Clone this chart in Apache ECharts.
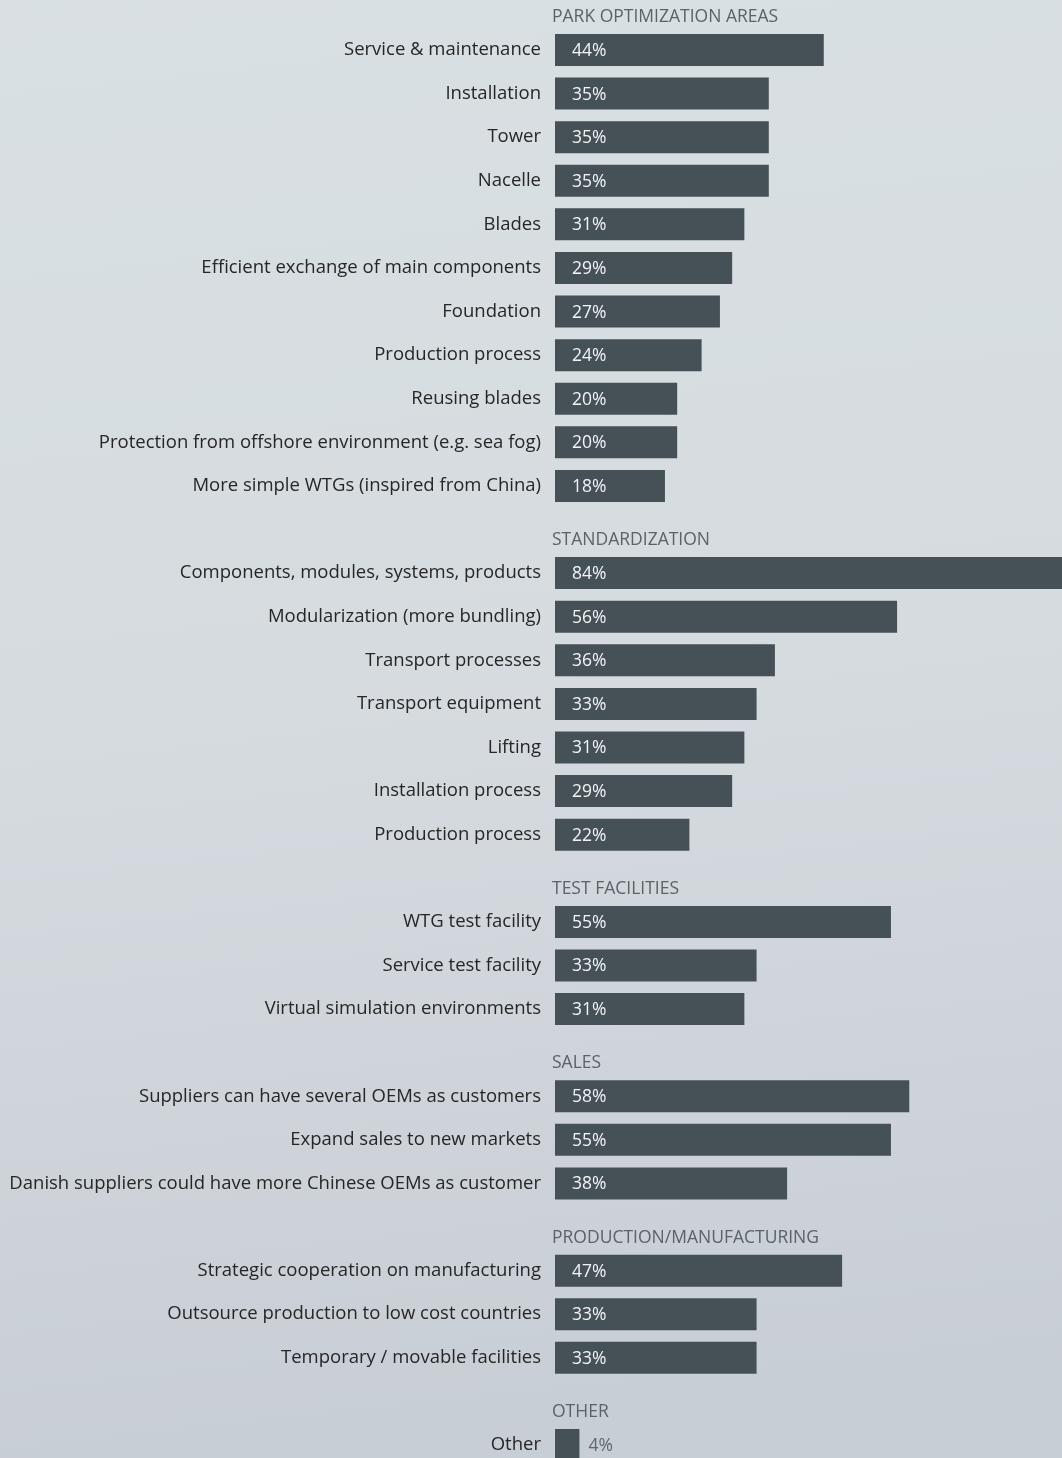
<!DOCTYPE html>
<html>
<head>
<meta charset="utf-8">
<script src="https://cdn.jsdelivr.net/npm/echarts@6/dist/echarts.min.js"></script>
<style>
html,body{margin:0;padding:0;}
#chart{width:1062px;height:1458px;}
</style>
</head>
<body>
<div id="chart"></div>
<script>
// ---- data ----
const sectionTitles = ['PARK OPTIMIZATION AREAS', 'STANDARDIZATION', 'TEST FACILITIES', 'SALES', 'PRODUCTION/MANUFACTURING', 'OTHER'];
const parkLabels = ['Service & maintenance', 'Installation', 'Tower', 'Nacelle', 'Blades', 'Efficient exchange of main components', 'Foundation', 'Production process', 'Reusing blades', 'Protection from offshore environment (e.g. sea fog)', 'More simple WTGs (inspired from China)'];
const parkValues = [44, 35, 35, 35, 31, 29, 27, 24, 20, 20, 18];
const stdLabels = ['Components, modules, systems, products', 'Modularization (more bundling)', 'Transport processes', 'Transport equipment', 'Lifting', 'Installation process', 'Production process'];
const stdValues = [84, 56, 36, 33, 31, 29, 22];
const testLabels = ['WTG test facility', 'Service test facility', 'Virtual simulation environments'];
const testValues = [55, 33, 31];
const salesLabels = ['Suppliers can have several OEMs as customers', 'Expand sales to new markets', 'Danish suppliers could have more Chinese OEMs as customer'];
const salesValues = [58, 55, 38];
const prodLabels = ['Strategic cooperation on manufacturing', 'Outsource production to low cost countries', 'Temporary / movable facilities'];
const prodValues = [47, 33, 33];
const otherLabels = ['Other'];
const otherValues = [4];

const sectionLabels = [parkLabels, stdLabels, testLabels, salesLabels, prodLabels, otherLabels];
const sectionValues = [parkValues, stdValues, testValues, salesValues, prodValues, otherValues];

// ---- build axis/series data ----
const categories = [];
const barData = [];
const headerData = [];
sectionLabels.forEach(function (labels, s) {
  if (s > 0) {
    categories.push('__gap' + s);
    barData.push('-');
    headerData.push('-');
  }
  labels.forEach(function (lab, i) {
    categories.push(lab + (categories.indexOf(lab) >= 0 ? '\u200b' : ''));
    const v = sectionValues[s][i];
    const small = v < 10;
    barData.push({
      value: v,
      label: small ? {position: 'right', distance: 9, color: '#5f666c'} : undefined
    });
    headerData.push(i === 0 ? {value: 0, title: sectionTitles[s]} : '-');
  });
});

const chart = echarts.init(document.getElementById('chart'));
chart.setOption({
  backgroundColor: {
    type: 'linear', x: 0, y: 0, x2: 0.15, y2: 1,
    colorStops: [
      {offset: 0, color: '#d9e0e3'},
      {offset: 0.5, color: '#d5dbdf'},
      {offset: 1, color: '#c8ced5'}
    ]
  },
  animation: false,
  grid: {left: 555, right: 0, top: 28.2, height: 1438.6, containLabel: false, outerBoundsMode: 'none'},
  xAxis: {
    type: 'value', min: 0, max: 83, show: false
  },
  yAxis: {
    type: 'category',
    data: categories,
    inverse: true,
    axisLine: {show: false},
    axisTick: {show: false},
    splitLine: {show: false},
    axisLabel: {
      margin: 14,
      fontSize: 18.5,
      fontFamily: 'Open Sans',
      color: '#262626',
      formatter: function (v) { return v.indexOf('__gap') === 0 ? '' : v; }
    }
  },
  series: [
    {
      type: 'bar',
      data: barData,
      barWidth: 32,
      barGap: '-100%',
      itemStyle: {color: '#455057'},
      label: {
        show: true,
        position: 'insideLeft',
        distance: 17,
        offset: [0, 1],
        fontSize: 17.5,
        fontFamily: 'Open Sans',
        color: '#f2f4f5',
        formatter: '{c}%'
      }
    },
    {
      type: 'bar',
      data: headerData,
      barWidth: 32,
      barGap: '-100%',
      itemStyle: {color: 'rgba(0,0,0,0)'},
      silent: true,
      label: {
        show: true,
        position: 'right',
        distance: 0,
        offset: [-3, -33],
        fontSize: 17.5,
        fontFamily: 'Open Sans',
        color: '#5b6268',
        formatter: function (p) { return p.data.title; }
      }
    }
  ]
});
</script>
</body>
</html>
